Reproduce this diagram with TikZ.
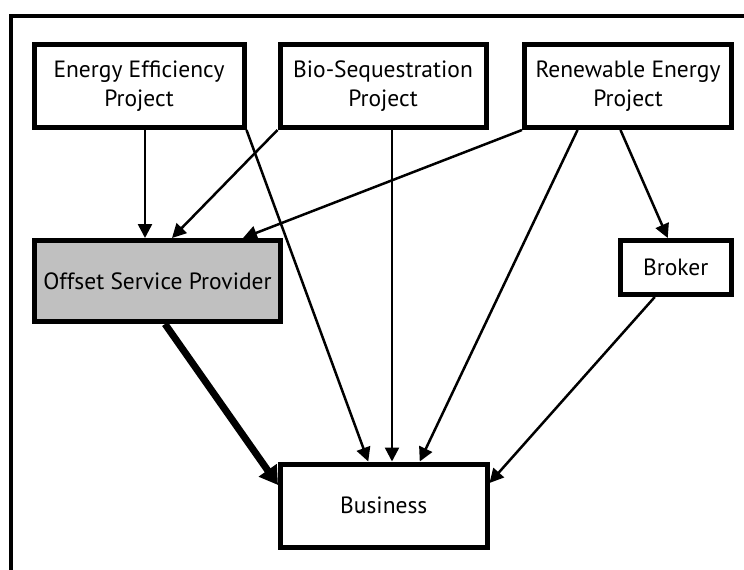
\documentclass[tikz,border=0pt]{standalone}
\usepackage{fontspec}
\setmainfont{PT Sans}
\usetikzlibrary{arrows.meta,positioning}
\definecolor{boxgray}{HTML}{C0C0C0}
\tikzstyle{block} = [rectangle, draw, line width=5pt, align=center, minimum width=206pt, minimum height=83pt, font=\fontsize{23.5}{29}\selectfont]
\tikzstyle{provider} = [block, fill=boxgray, minimum width=246pt, minimum height=81pt]
\tikzstyle{brokerbox} = [block, minimum width=110.5pt, minimum height=54pt]
\tikzstyle{flow} = [draw, line width=2.5pt, -{Triangle[length=14pt,width=14pt]}]
\tikzstyle{mainflow} = [draw, line width=7pt, -{Triangle[length=18pt,width=21pt]}]

\begin{document}
\begin{tikzpicture}[x=1pt,y=-1pt]
    \useasboundingbox (0,0) rectangle (744,570);
    \draw[line width=4.5pt] (11,572) -- (11,16) -- (746,16);

    \node [block, minimum width=210pt] (effic) at (139,86) {Energy Efficiency\\Project};
    \node [block, right=31pt of effic] (bioseq) {Bio-Sequestration\\Project};
    \node [block, minimum width=207pt, right=33.5pt of bioseq] (renew) {Renewable Energy\\Project};
    \node [provider] (offset) at (157.5,281) {Offset Service Provider};
    \node [brokerbox] (broker) at (675.75,267.5) {Broker};
    \node [block, minimum width=206.5pt] (business) at (383.75,505.5) {Business};

    % into the provider
    \draw[flow] ([xshift=6pt]effic.south) -- ([xshift=-12.5pt]offset.north);
    \draw[flow] (bioseq.south west) -- ([xshift=14.5pt]offset.north);
    \draw[flow] (renew.south west) -- ([xshift=85.5pt]offset.north);

    % into the business
    \draw[flow] (effic.south east) -- ([xshift=-15.5pt]business.north);
    \draw[flow] ([xshift=9pt]bioseq.south) -- ([xshift=8.25pt]business.north);
    \draw[flow] ([xshift=-50.5pt]renew.south) -- ([xshift=36pt]business.north);
    \draw[flow] ([xshift=-7.5pt]renew.south) -- ([xshift=-8pt]broker.north);
    \draw[flow] ([xshift=-21pt]broker.south) -- ([yshift=22.5pt]business.east);
    \draw[mainflow] ([xshift=7.5pt]offset.south) -- ([yshift=20.5pt]business.west);
\end{tikzpicture}
\end{document}
